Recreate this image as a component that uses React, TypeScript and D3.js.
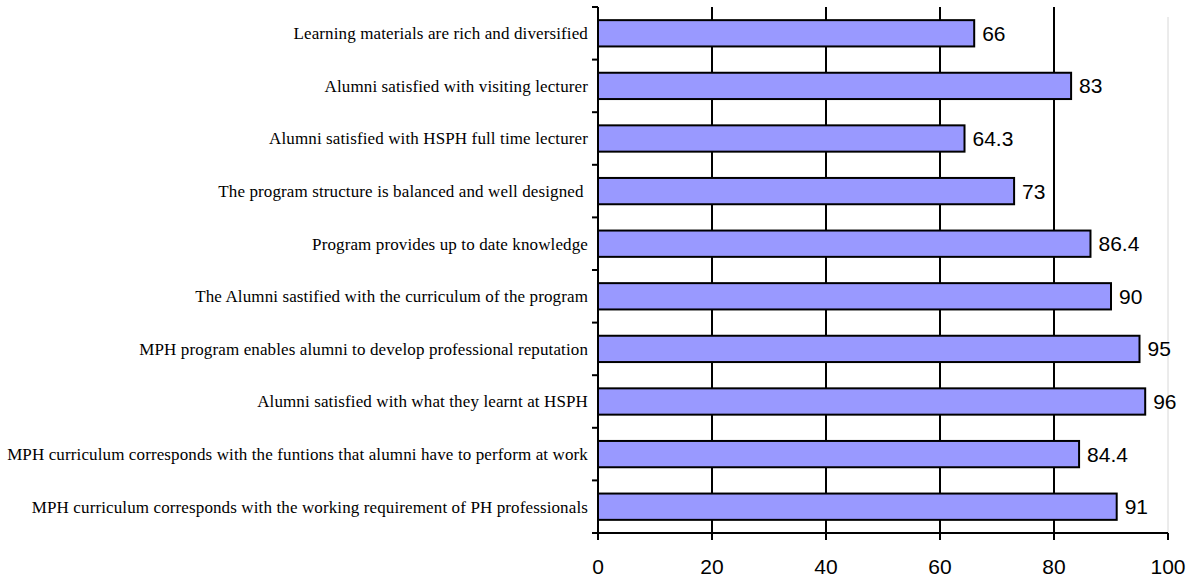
import React from "react";
import * as d3 from "d3";

const categories: string[] = [
  "Learning materials are rich and diversified",
  "Alumni satisfied with visiting lecturer",
  "Alumni satisfied with HSPH full time lecturer",
  "The program structure is balanced and well designed ",
  "Program provides up to date knowledge",
  "The Alumni sastified with the curriculum of the program",
  "MPH program enables alumni to develop professional reputation",
  "Alumni satisfied with what they learnt at HSPH",
  "MPH curriculum corresponds with the funtions that alumni have to perform at work",
  "MPH curriculum corresponds with the working requirement of PH professionals",
];
const values: number[] = [66, 83, 64.3, 73, 86.4, 90, 95, 96, 84.4, 91];
const valueLabels: string[] = ["66", "83", "64.3", "73", "86.4", "90", "95", "96", "84.4", "91"];
const xTicks: number[] = [0, 20, 40, 60, 80, 100];

const W = 1200;
const H = 584;
const left = 598;
const right = 1168;
const top = 7;
const bottom = 533;

export default function App() {
  const x = d3.scaleLinear().domain([0, 100]).range([left, right]);
  const y = d3.scaleBand<string>().domain(categories).range([top, bottom]).paddingInner(0.5).paddingOuter(0.25);
  const boundaries = d3.range(categories.length + 1).map((i) => top + i * ((bottom - top) / categories.length));
  return (
    <svg width={W} height={H} style={{ position: "absolute", left: 0, top: 0, background: "#fff" }}>
      <rect x={0} y={0} width={W} height={H} fill="#fff" />
      <line x1={right} x2={right} y1={top + 10} y2={bottom} stroke="#d8d8d8" strokeWidth={1} />
      {xTicks.filter((t) => t > 0 && t < 100).map((t) => (
        <line key={"g" + t} x1={x(t)} x2={x(t)} y1={top} y2={bottom} stroke="#000" strokeWidth={2} />
      ))}
      {categories.map((c, i) => (
        <rect
          key={"b" + i}
          x={x(0)}
          y={y(c)!}
          width={x(values[i]) - x(0)}
          height={y.bandwidth()}
          fill="#9999FF"
          stroke="#000"
          strokeWidth={2}
        />
      ))}
      {categories.map((c, i) => (
        <text
          key={"v" + i}
          x={x(values[i]) + 8}
          y={y(c)! + y.bandwidth() / 2}
          dy="0.36em"
          fontFamily="'Liberation Sans', Arial, sans-serif"
          fontSize={21}
          fill="#000"
        >
          {valueLabels[i]}
        </text>
      ))}
      <line x1={left} x2={left} y1={top} y2={bottom} stroke="#000" strokeWidth={2} />
      {boundaries.map((b, i) => (
        <line key={"yt" + i} x1={left - 6} x2={left} y1={b} y2={b} stroke="#000" strokeWidth={2} />
      ))}
      {categories.map((c, i) => (
        <text
          key={"l" + i}
          x={588}
          y={y(c)! + y.bandwidth() / 2}
          dy="0.35em"
          textAnchor="end"
          fontFamily="'Liberation Serif', 'Times New Roman', serif"
          fontSize={17}
          letterSpacing={0.12}
          fill="#000"
          style={{ whiteSpace: "pre" }}
        >
          {c}
        </text>
      ))}
      <line x1={left} x2={right} y1={bottom} y2={bottom} stroke="#000" strokeWidth={2} />
      {xTicks.map((t) => (
        <g key={"xt" + t}>
          <line x1={x(t)} x2={x(t)} y1={bottom} y2={bottom + 7} stroke="#000" strokeWidth={2} />
          <text
            x={x(t)}
            y={574}
            textAnchor="middle"
            fontFamily="'Liberation Sans', Arial, sans-serif"
            fontSize={21}
            fill="#000"
          >
            {t}
          </text>
        </g>
      ))}
    </svg>
  );
}
